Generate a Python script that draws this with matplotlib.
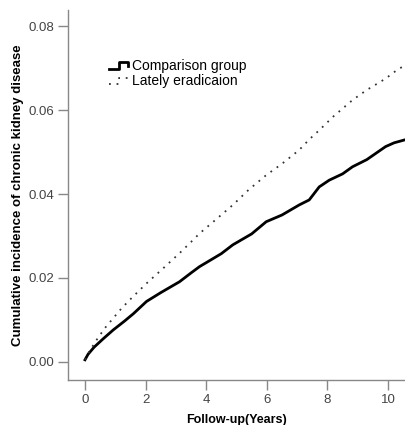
import matplotlib
matplotlib.use("Agg")
import matplotlib.pyplot as plt
from matplotlib.legend_handler import HandlerLine2D
from matplotlib.lines import Line2D

plt.rcParams["font.family"] = ["Liberation Sans", "DejaVu Sans"]

# values
years_comp = [0.0, 0.1, 0.3, 0.6, 0.93, 1.3, 1.6, 2.03, 2.5, 3.12, 3.5, 3.78,
              4.06, 4.5, 4.88, 5.5, 5.98, 6.5, 7.07, 7.4, 7.73, 8.06, 8.5,
              8.83, 9.3, 9.92, 10.2, 10.55]
cum_comp = [0.0005, 0.0018, 0.0035, 0.0055, 0.0076, 0.0097, 0.0115, 0.0144,
            0.0165, 0.0191, 0.0212, 0.0227, 0.0239, 0.0258, 0.0279, 0.0305,
            0.0334, 0.0350, 0.0374, 0.0386, 0.0417, 0.0433, 0.0448, 0.0465,
            0.0482, 0.0513, 0.0522, 0.0529]

years_late = [0.0, 0.1, 0.38, 0.65, 0.93, 1.2, 1.48, 2.03, 2.58, 3.12, 3.56,
              3.78, 4.3, 4.88, 5.4, 5.98, 6.5, 7.07, 7.4, 7.73, 8.2, 8.83,
              9.3, 9.92, 10.36, 10.55]
cum_late = [0.0005, 0.0020, 0.0052, 0.0080, 0.0104, 0.0127, 0.0148, 0.0187,
            0.0223, 0.0259, 0.0290, 0.0306, 0.0338, 0.0374, 0.0410, 0.0445,
            0.0472, 0.0505, 0.0530, 0.0552, 0.0585, 0.0624, 0.0648, 0.0675,
            0.0699, 0.0705]

series_labels = ["Comparison group", "Lately eradicaion"]
x_ticks = [0, 2, 4, 6, 8, 10]
y_ticks = [0.00, 0.02, 0.04, 0.06, 0.08]


class StepHandler(HandlerLine2D):
    # legend key drawn as a small step, like the SPSS survival plot
    def create_artists(self, legend, orig_handle, xdescent, ydescent,
                       width, height, fontsize, trans):
        x0 = -xdescent
        y0 = -ydescent + height * 0.1
        y1 = -ydescent + height * 0.8
        xs = [x0, x0 + width * 0.5, x0 + width * 0.5, x0 + width, x0 + width]
        ys = [y0, y0, y1, y1, y0 + (y1 - y0) * 0.4]
        line = Line2D(xs, ys)
        self.update_prop(line, orig_handle, legend)
        line.set_transform(trans)
        return [line]


fig = plt.figure(figsize=(4.06, 4.25), dpi=100)
ax = fig.add_axes([0.1675, 0.106, 0.83, 0.870])

ax.plot(years_comp, cum_comp, color="black", lw=2.0, solid_joinstyle="round",
        label=series_labels[0])
ax.plot(years_late, cum_late, color="#333333", lw=1.3, ls=(0, (1, 3.2)),
        label=series_labels[1])

ax.set_xlim(-0.56, 10.56)
ax.set_ylim(-0.0043, 0.0838)
ax.set_xticks(x_ticks)
ax.set_xticklabels([str(t) for t in x_ticks])
ax.set_yticks(y_ticks)
ax.set_yticklabels(["%.2f" % v for v in y_ticks])

for s in ["top", "right"]:
    ax.spines[s].set_visible(False)
for s in ["left", "bottom"]:
    ax.spines[s].set_color("#888888")
    ax.spines[s].set_linewidth(1.0)
ax.tick_params(axis="both", direction="out", length=7, width=1.0,
               color="#888888", labelcolor="#444444", labelsize=9.5, pad=3)

ax.set_xlabel("Follow-up(Years)", fontsize=9, fontweight="bold", labelpad=6)
ax.set_ylabel("Cumulative incidence of chronic kidney disease", fontsize=9.5,
              fontweight="bold", labelpad=3)

leg = ax.legend(loc="upper left", bbox_to_anchor=(0.121, 0.868), frameon=False,
                fontsize=10, handlelength=1.4, handletextpad=0.3,
                labelspacing=0.1, borderaxespad=0, borderpad=0,
                handler_map={Line2D: StepHandler()})

fig.savefig("out.png", dpi=100)
